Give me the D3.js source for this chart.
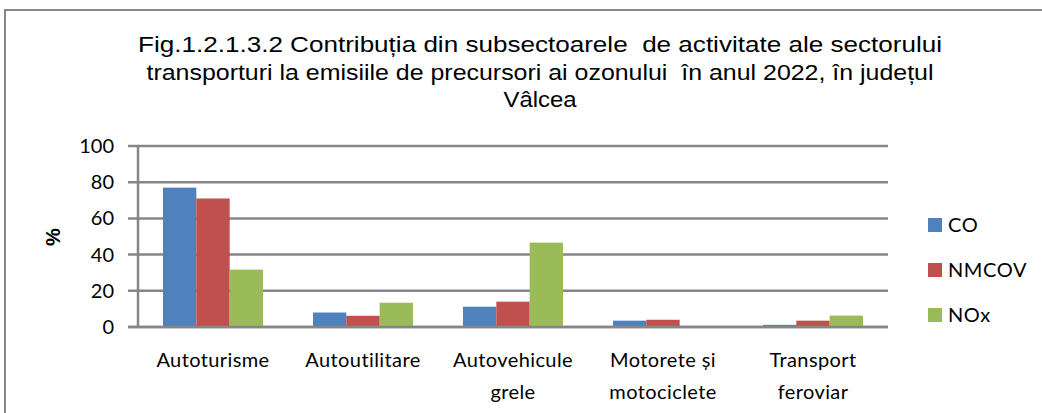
<!DOCTYPE html>
<html>
<head>
<meta charset="utf-8">
<script src="https://cdn.jsdelivr.net/npm/d3@7"></script>
<style>
  html, body { margin: 0; padding: 0; background: #fff; }
  svg { display: block; }
  .tick-label, .cat-label, .legend-label { font-family: Lato, "Open Sans", sans-serif; fill: #000; }
  .title { font-family: "Liberation Sans", Arial, sans-serif; fill: #000; white-space: pre; }
</style>
</head>
<body>
<script>
'use strict'

var categories = [
  ['Autoturisme'],
  ['Autoutilitare'],
  ['Autovehicule', 'grele'],
  ['Motorete și', 'motociclete'],
  ['Transport', 'feroviar']
]
var seriesNames = ['CO', 'NMCOV', 'NOx']
var seriesColors = ['#4F81BD', '#C0504D', '#9BBB59']
var coValues = [77, 8, 11.2, 3.5, 1.2]
var nmcovValues = [71, 6.2, 14, 4, 3.5]
var noxValues = [31.7, 13.4, 46.6, 0, 6.3]
var yTicks = [0, 20, 40, 60, 80, 100]
var titleLines = [
  'Fig.1.2.1.3.2 Contribuția din subsectoarele  de activitate ale sectorului',
  'transporturi la emisiile de precursori ai ozonului  în anul 2022, în județul',
  'Vâlcea'
]

var width = 1042
var height = 413
var plot = { left: 138, right: 888, top: 146, bottom: 327 }

var svg = d3.select('body').append('svg')
  .attr('width', width)
  .attr('height', height)

// outer frame (right and bottom edges fall outside the picture)
svg.append('rect')
  .attr('x', 5).attr('y', 10)
  .attr('width', width + 20).attr('height', height + 20)
  .attr('fill', 'none')
  .attr('stroke', '#878787')
  .attr('stroke-width', 2)

// title
var titleWidths = [804, 787, 73]
var titleBaselines = [52, 80, 107]
svg.selectAll('text.title')
  .data(titleLines)
  .enter().append('text')
  .attr('class', 'title')
  .attr('x', 540)
  .attr('y', function (d, i) { return titleBaselines[i] })
  .attr('text-anchor', 'middle')
  .attr('font-size', 22)
  .attr('textLength', function (d, i) { return titleWidths[i] })
  .attr('lengthAdjust', 'spacingAndGlyphs')
  .text(function (d) { return d })

var x = d3.scaleBand()
  .domain(d3.range(categories.length))
  .range([plot.left, plot.right])
  .paddingInner(1 / 3)
  .paddingOuter(1 / 6)

var xs = d3.scaleBand()
  .domain(seriesNames)
  .range([0, x.bandwidth()])

var y = d3.scaleLinear()
  .domain([0, 100])
  .range([plot.bottom, plot.top])

// gridlines + y ticks
svg.append('g').selectAll('line')
  .data(yTicks)
  .enter().append('line')
  .attr('x1', plot.left - 10)
  .attr('x2', plot.right)
  .attr('y1', function (d) { return y(d) })
  .attr('y2', function (d) { return y(d) })
  .attr('stroke', '#868686')
  .attr('stroke-width', 2.5)

svg.append('line')
  .attr('x1', plot.left).attr('x2', plot.left)
  .attr('y1', y(100)).attr('y2', y(0))
  .attr('stroke', '#868686')
  .attr('stroke-width', 2.5)

svg.append('g').selectAll('text')
  .data(yTicks)
  .enter().append('text')
  .attr('class', 'tick-label')
  .attr('x', 114)
  .attr('y', function (d) { return y(d) + 7 })
  .attr('text-anchor', 'end')
  .attr('font-size', 20)
  .text(function (d) { return d })

svg.append('text')
  .attr('class', 'title')
  .attr('transform', 'translate(60,237) rotate(-90)')
  .attr('text-anchor', 'middle')
  .attr('font-size', 20)
  .attr('font-weight', 'bold')
  .text('%')

// bars
var series = [coValues, nmcovValues, noxValues]
series.forEach(function (values, si) {
  svg.append('g').selectAll('rect')
    .data(values)
    .enter().append('rect')
    .attr('x', function (d, i) { return x(i) + xs(seriesNames[si]) })
    .attr('width', xs.bandwidth())
    .attr('y', function (d) { return y(d) })
    .attr('height', function (d) { return y(0) - y(d) })
    .attr('fill', seriesColors[si])
})

// redraw baseline over bars
svg.append('line')
  .attr('x1', plot.left - 10).attr('x2', plot.right)
  .attr('y1', y(0)).attr('y2', y(0))
  .attr('stroke', '#868686')
  .attr('stroke-width', 2.5)

// category labels
var cat = svg.append('g').selectAll('text')
  .data(categories)
  .enter().append('text')
  .attr('class', 'cat-label')
  .attr('text-anchor', 'middle')
  .attr('font-size', 20)
  .attr('letter-spacing', 0.4)

cat.selectAll('tspan')
  .data(function (d, i) { return d.map(function (s) { return { s: s, i: i } }) })
  .enter().append('tspan')
  .attr('x', function (d) { return x(d.i) + x.bandwidth() / 2 })
  .attr('y', function (d, j) { return 367 + j * 32 })
  .text(function (d) { return d.s })

// legend
var legend = svg.append('g').selectAll('g')
  .data(seriesNames)
  .enter().append('g')
  .attr('transform', function (d, i) { return 'translate(928,' + (218 + i * 45) + ')' })

legend.append('rect')
  .attr('width', 14).attr('height', 14)
  .attr('fill', function (d, i) { return seriesColors[i] })

legend.append('text')
  .attr('class', 'legend-label')
  .attr('x', 20)
  .attr('y', 14)
  .attr('font-size', 20)
  .attr('letter-spacing', 0.6)
  .text(function (d) { return d })
</script>
</body>
</html>
